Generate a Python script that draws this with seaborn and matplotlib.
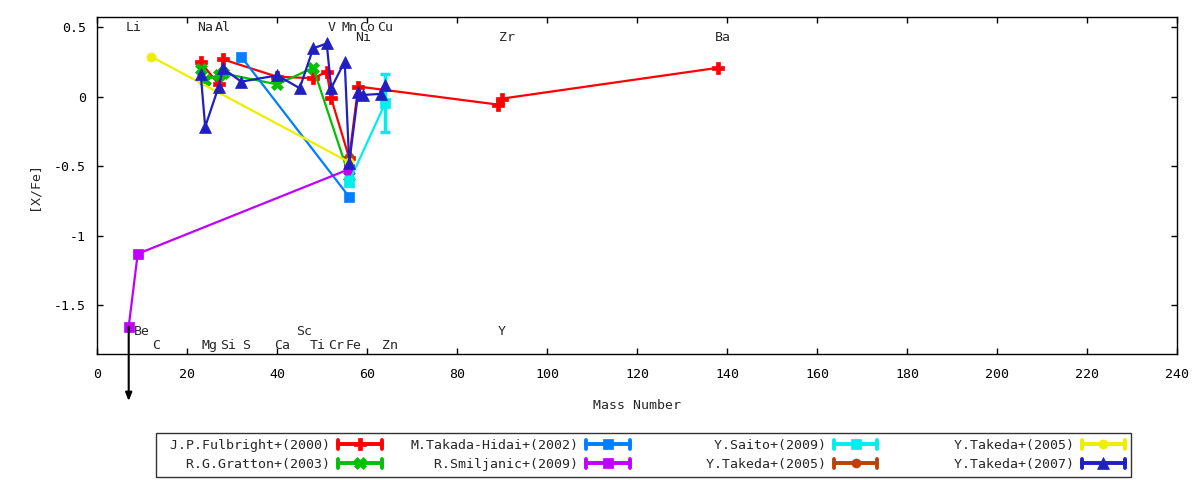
import numpy as np
import pandas as pd
import matplotlib
matplotlib.use('Agg')
import matplotlib.pyplot as plt
import seaborn as sns
from matplotlib.legend_handler import HandlerBase
from matplotlib.lines import Line2D
from matplotlib.ticker import FuncFormatter

# [X/Fe] vs mass number
fulbright_mass = [23, 27, 28, 40, 48, 51, 52, 56, 58, 89, 90, 138]
fulbright_xfe = [0.25, 0.09, 0.27, 0.145, 0.135, 0.18, -0.01, -0.44, 0.075, -0.055, -0.012, 0.21]

gratton_mass = [23, 24, 27, 28, 40, 48, 56]
gratton_xfe = [0.2, 0.12, 0.16, 0.17, 0.09, 0.21, -0.57]

takada_mass = [32, 56]
takada_xfe = [0.29, -0.72]

smiljanic_mass = [7, 9, 56]
smiljanic_xfe = [-1.655, -1.13, -0.52]

saito_mass = [56, 64]
saito_xfe = [-0.61, -0.045]
saito_err = [0.03, 0.21]

takeda05b_mass = [56]
takeda05b_xfe = [-0.43]

takeda05y_mass = [12, 56]
takeda05y_xfe = [0.29, -0.47]

takeda07_mass = [23, 24, 27, 28, 32, 40, 45, 48, 51, 52, 55, 56, 58, 59, 63, 64]
takeda07_xfe = [0.165, -0.215, 0.075, 0.205, 0.11, 0.155, 0.063, 0.35, 0.385,
                0.063, 0.255, -0.478, 0.034, 0.014, 0.022, 0.087]

labels = ['J.P.Fulbright+(2000)', 'R.G.Gratton+(2003)', 'M.Takada-Hidai+(2002)',
          'R.Smiljanic+(2009)', 'Y.Saito+(2009)', 'Y.Takeda+(2005)',
          'Y.Takeda+(2005)', 'Y.Takeda+(2007)']

# element names along top and bottom of the frame
elem_names = ['Li', 'Na', 'Al', 'V', 'Mn', 'Co', 'Cu', 'Ni', 'Zr', 'Ba',
              'Be', 'Sc', 'Y', 'C', 'Mg', 'Si', 'S', 'Ca', 'Ti', 'Cr', 'Fe', 'Zn']
elem_mass = [7, 23, 27, 51, 55, 59, 63, 58, 90, 138,
             9, 45, 89, 12, 24, 28, 32, 40, 48, 52, 56, 64]
elem_y = [0.5] * 7 + [0.43] * 3 + [-1.69] * 3 + [-1.79] * 9

sns.set_style('ticks')
plt.rcParams['font.family'] = ['DejaVu Sans Mono']
plt.rcParams['font.size'] = 9.5
plt.rcParams['axes.unicode_minus'] = False


class CapLineHandler(HandlerBase):
    # gnuplot-like key sample: thick line with end caps and a marker
    def create_artists(self, legend, orig, xdescent, ydescent, width, height, fontsize, trans):
        y = height / 2 - ydescent
        x0, x1 = -xdescent, width - xdescent
        c = orig.get_color()
        line = Line2D([x0, x1], [y, y], color=c, lw=2.8)
        caps = Line2D([x0, x0, np.nan, x1, x1], [y - 3, y + 3, np.nan, y - 3, y + 3],
                      color=c, lw=2.8)
        mk = Line2D([(x0 + x1) / 2], [y], marker=orig.get_marker(), color=c,
                    markersize=orig.get_markersize(), markeredgecolor=c,
                    markeredgewidth=orig.get_markeredgewidth())
        arts = [line, caps, mk]
        for a in arts:
            a.set_transform(trans)
        return arts


fig, ax = plt.subplots(figsize=(12, 4.8), dpi=100)
fig.subplots_adjust(left=0.081, right=0.981, top=0.965, bottom=0.262)

series = [
    (fulbright_mass, fulbright_xfe, '#ff0000', 'P', 8, 0.5),
    (gratton_mass, gratton_xfe, '#00c000', 'X', 8, 0.5),
    (takada_mass, takada_xfe, '#0080ff', 's', 6.5, 0.5),
    (smiljanic_mass, smiljanic_xfe, '#c000ff', 's', 6.5, 0.5),
    (saito_mass, saito_xfe, '#00eeee', 's', 6.5, 0.5),
    (takeda05b_mass, takeda05b_xfe, '#c04000', 'o', 6.5, 0.5),
    (takeda05y_mass, takeda05y_xfe, '#eeee00', 'o', 6.5, 0.5),
    (takeda07_mass, takeda07_xfe, '#2020c0', '^', 8, 0.5),
]

handles = []
for (m, v, c, mk, ms, mew), lab in zip(series, labels):
    df = pd.DataFrame({'mass': m, 'xfe': v})
    sns.lineplot(data=df, x='mass', y='xfe', sort=False, estimator=None,
                 color=c, marker=mk, markersize=ms, markeredgecolor=c,
                 markeredgewidth=mew, linewidth=1.6, ax=ax, legend=False)
    handles.append(ax.lines[-1])
    if lab == 'Y.Saito+(2009)':
        ax.errorbar(saito_mass, saito_xfe, yerr=saito_err, fmt='none', ecolor=c,
                    elinewidth=2.5, capsize=3.5, capthick=2.5)

# upper limit on Li
ax.annotate('', xy=(smiljanic_mass[0], -2.19), xytext=(smiljanic_mass[0], smiljanic_xfe[0]),
            arrowprops=dict(arrowstyle='-|>,head_length=0.5,head_width=0.2',
                            color='black', lw=1.5, shrinkA=0, shrinkB=0),
            annotation_clip=False)

for name, m, y in zip(elem_names, elem_mass, elem_y):
    ax.annotate(name, (m, y), xytext=(3.2, 0), textcoords='offset points',
                ha='center', va='center')

ax.set_xlim(0, 240)
ax.set_ylim(-1.853, 0.577)
ax.set_xticks(np.arange(0, 241, 20))
ax.set_yticks([-1.5, -1, -0.5, 0, 0.5])
ax.yaxis.set_major_formatter(FuncFormatter(lambda v, p: '%g' % v))
ax.tick_params(direction='in', top=True, right=True, length=4, width=1, colors='black')
ax.tick_params(axis='x', pad=10)
ax.tick_params(axis='y', pad=8)
for s in ax.spines.values():
    s.set_color('black')
    s.set_linewidth(1)
ax.set_xlabel('Mass Number', labelpad=13)
ax.set_ylabel('[X/Fe]', labelpad=10)

leg = ax.legend(handles, [l.rjust(21) for l in labels], ncol=4, markerfirst=False,
                handler_map={Line2D: CapLineHandler()},
                loc='center', bbox_to_anchor=(0.5365, 0.052), bbox_transform=fig.transFigure,
                frameon=True, fancybox=False, edgecolor='black', borderpad=0.45,
                handlelength=3.3, handletextpad=0.6, columnspacing=2.15, labelspacing=0.45,
                borderaxespad=0)
leg.get_frame().set_linewidth(1)

fig.savefig('out.png', dpi=100)
